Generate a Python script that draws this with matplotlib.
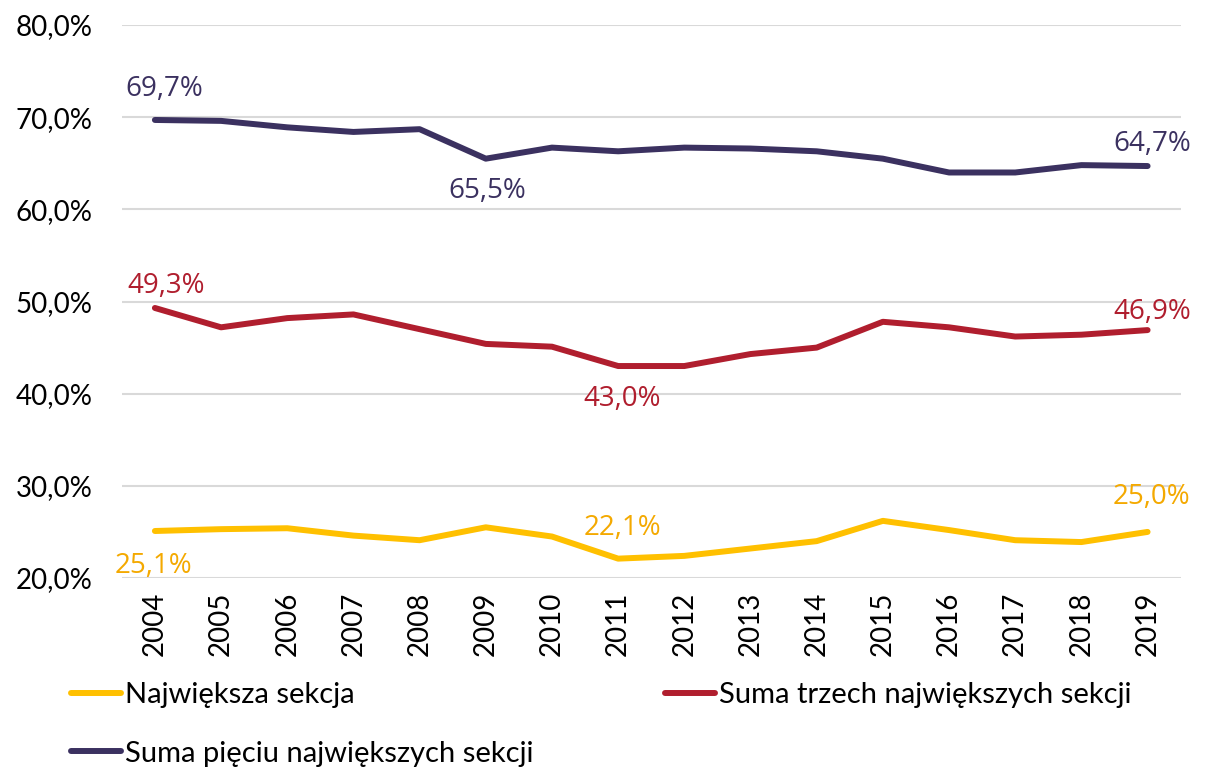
import matplotlib.pyplot as plt
from matplotlib.lines import Line2D

years = list(range(2004, 2020))
najwieksza = [25.1, 25.3, 25.4, 24.6, 24.1, 25.5, 24.5, 22.1, 22.4, 23.2, 24.0, 26.2, 25.2, 24.1, 23.9, 25.0]
trzy = [49.3, 47.2, 48.2, 48.6, 47.0, 45.4, 45.1, 43.0, 43.0, 44.3, 45.0, 47.8, 47.2, 46.2, 46.4, 46.9]
piec = [69.7, 69.6, 68.9, 68.4, 68.7, 65.5, 66.7, 66.3, 66.7, 66.6, 66.3, 65.5, 64.0, 64.0, 64.8, 64.7]

yticks = [20, 30, 40, 50, 60, 70, 80]

# (index, horizontal and vertical offset in points) for the value labels
labels_najw = [(0, -1, -25), (7, 3, 22), (15, 3, 25)]
labels_trzy = [(0, 8, 16), (7, 3, -24), (15, 3, 13)]
labels_piec = [(0, 7, 22), (5, 1, -23), (15, 3, 16)]

c_yellow = "#FFC000"
c_yellow_txt = "#F4A900"
c_red = "#B01E2E"
c_purple = "#3B3160"

plt.rcParams["font.family"] = ["Lato", "DejaVu Sans"]

fig = plt.figure(figsize=(12.06, 7.68), dpi=100)
ax = fig.add_axes([0.101, 0.2474, 0.878, 0.72])

x = list(range(len(years)))
ax.plot(x, najwieksza, color=c_yellow, lw=4.3, solid_capstyle="round")
ax.plot(x, trzy, color=c_red, lw=4.3, solid_capstyle="round")
ax.plot(x, piec, color=c_purple, lw=4.3, solid_capstyle="round")


def fmt(v):
    return f"{v:.1f}%".replace(".", ",")


def put_labels(vals, spec, color):
    for i, dx, dy in spec:
        ax.annotate(fmt(vals[i]), (i, vals[i]), xytext=(dx, dy), textcoords="offset points",
                    ha="center", va="center", color=color, fontsize=20,
                    family=["Open Sans", "DejaVu Sans"])


put_labels(najwieksza, labels_najw, c_yellow_txt)
put_labels(trzy, labels_trzy, c_red)
put_labels(piec, labels_piec, c_purple)

ax.set_xlim(-0.5, len(years) - 0.5)
ax.set_ylim(20, 80)
ax.set_yticks(yticks)
ax.set_yticklabels([fmt(t) for t in yticks], fontsize=20)
ax.set_xticks(x)
ax.set_xticklabels([str(y) for y in years], rotation=90, fontsize=20)
ax.tick_params(axis="x", length=0, pad=10)
ax.tick_params(axis="y", length=0, pad=21)
ax.grid(axis="y", color="#D9D9D9", lw=1.5)
ax.set_axisbelow(True)
for s in ax.spines.values():
    s.set_visible(False)

handles = [Line2D([], [], color=c_yellow, lw=4.3, solid_capstyle="round"),
           Line2D([], [], color=c_purple, lw=4.3, solid_capstyle="round"),
           Line2D([], [], color=c_red, lw=4.3, solid_capstyle="round")]
names = ["Największa sekcja", "Suma pięciu największych sekcji", "Suma trzech największych sekcji"]
fig.legend(handles, names, ncol=2, loc="upper left", bbox_to_anchor=(0.047, 0.131),
           frameon=False, fontsize=21, handlelength=1.7, handletextpad=0.15,
           columnspacing=4.5, labelspacing=1.12, borderpad=0)

fig.savefig("out.png", dpi=100)
